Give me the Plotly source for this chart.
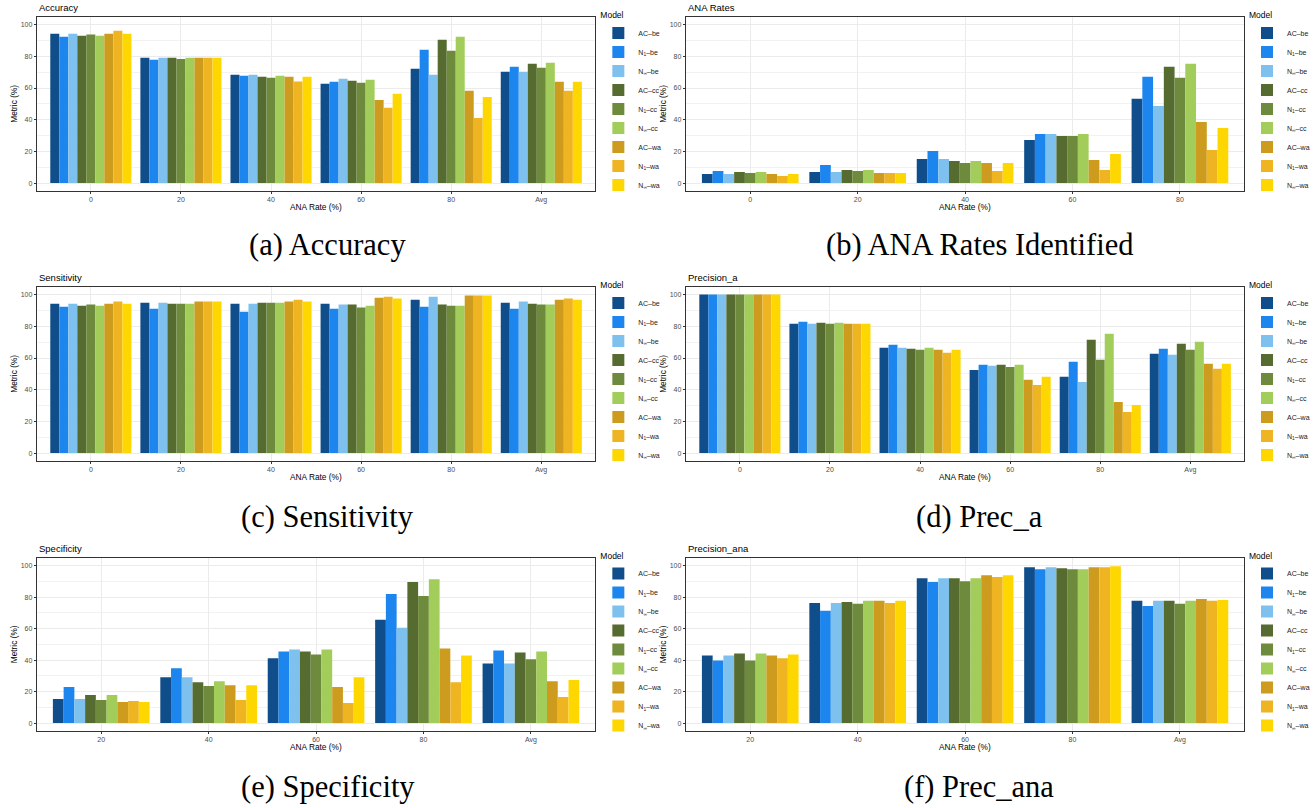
import plotly.graph_objects as go

W, H = 1315, 808

models = ["AC–be", "N<sub>1</sub>–be", "N<sub>∞</sub>–be",
          "AC–cc", "N<sub>1</sub>–cc", "N<sub>∞</sub>–cc",
          "AC–wa", "N<sub>1</sub>–wa", "N<sub>∞</sub>–wa"]
colors = ["#104E8B", "#1C86EE", "#7EC0EE",
          "#556B2F", "#6E8B3D", "#A2CD5A",
          "#CD9B1D", "#EEB422", "#FFD700"]

cats_full = ["0", "20", "40", "60", "80", "Avg"]
cats_rates = ["0", "20", "40", "60", "80"]
cats_spec = ["20", "40", "60", "80", "Avg"]
y_ticks = [0, 20, 40, 60, 80, 100]

# rows = models, columns = categories
accuracy = [
    [94.3, 79.1, 68.4, 62.7, 72.2, 70.3],
    [92.4, 77.8, 67.7, 63.9, 84.2, 73.4],
    [94.3, 79.1, 68.4, 65.8, 68.4, 70.3],
    [93.0, 79.1, 67.1, 64.6, 90.5, 75.3],
    [93.7, 78.3, 66.5, 63.3, 83.5, 72.8],
    [93.0, 79.1, 67.7, 65.2, 92.4, 75.9],
    [94.3, 79.1, 67.1, 52.5, 58.2, 63.9],
    [96.2, 79.1, 64.1, 47.5, 41.1, 58.2],
    [94.3, 79.1, 67.1, 56.3, 54.4, 63.9],
]
ana_rates = [
    [5.7, 7.0, 15.2, 27.2, 53.2],
    [7.6, 11.4, 20.3, 31.0, 67.1],
    [5.7, 7.0, 15.2, 31.0, 48.7],
    [7.0, 8.2, 13.9, 29.7, 73.4],
    [6.3, 7.6, 12.7, 29.7, 66.5],
    [7.0, 8.2, 13.9, 31.0, 75.3],
    [5.7, 6.3, 12.7, 14.6, 38.6],
    [4.4, 6.3, 7.6, 8.2, 20.9],
    [5.7, 6.3, 12.7, 18.4, 34.8],
]
sensitivity = [
    [94.3, 94.9, 94.3, 94.3, 96.8, 94.9],
    [92.4, 91.1, 89.2, 91.1, 92.4, 91.1],
    [94.3, 94.9, 94.3, 93.7, 98.7, 95.6],
    [93.0, 94.3, 94.9, 93.7, 93.7, 94.3],
    [93.7, 94.3, 94.9, 91.8, 93.0, 93.7],
    [93.0, 94.3, 94.9, 93.0, 93.0, 93.7],
    [94.3, 95.6, 95.6, 98.1, 99.4, 96.8],
    [95.6, 95.6, 96.8, 98.7, 99.4, 97.5],
    [94.3, 95.6, 95.6, 97.5, 99.4, 96.8],
]
precision_a = [
    [100, 81.6, 66.5, 52.5, 48.1, 62.7],
    [100, 82.9, 68.4, 55.7, 57.6, 65.8],
    [100, 81.6, 66.5, 55.1, 44.9, 62.0],
    [100, 82.3, 65.8, 55.7, 71.5, 69.0],
    [100, 81.6, 65.2, 54.4, 58.9, 65.2],
    [100, 82.3, 66.5, 55.7, 75.3, 70.3],
    [100, 81.6, 65.2, 46.2, 32.3, 56.3],
    [100, 81.6, 63.3, 43.0, 25.9, 53.2],
    [100, 81.6, 65.2, 48.1, 30.4, 56.3],
]
specificity = [
    [15.3, 29.1, 41.1, 65.6, 37.9],
    [22.9, 34.8, 45.5, 82.0, 46.1],
    [15.3, 29.1, 46.8, 60.6, 37.9],
    [17.8, 26.0, 45.5, 89.5, 44.9],
    [14.7, 23.5, 43.6, 80.7, 40.5],
    [17.8, 26.6, 46.8, 91.4, 45.5],
    [13.4, 24.1, 22.9, 47.4, 26.6],
    [14.0, 14.7, 12.8, 26.0, 16.6],
    [13.4, 24.1, 29.1, 43.0, 27.3],
]
precision_ana = [
    [43.0, 76.3, 92.0, 99.0, 77.6],
    [39.8, 71.3, 89.5, 97.7, 74.4],
    [43.0, 76.3, 92.0, 99.0, 77.6],
    [44.2, 76.9, 92.0, 98.3, 77.6],
    [39.8, 75.7, 90.1, 97.7, 75.7],
    [44.2, 77.6, 92.0, 97.7, 77.6],
    [43.0, 77.6, 93.9, 99.0, 78.8],
    [41.1, 76.3, 92.7, 99.0, 77.6],
    [43.6, 77.6, 93.9, 99.6, 78.2],
]

panels = [
    ("Accuracy", "(a) Accuracy", cats_full, accuracy),
    ("ANA Rates", "(b) ANA Rates Identified", cats_rates, ana_rates),
    ("Sensitivity", "(c) Sensitivity", cats_full, sensitivity),
    ("Precision_a", "(d) Prec_a", cats_full, precision_a),
    ("Specificity", "(e) Specificity", cats_spec, specificity),
    ("Precision_ana", "(f) Prec_ana", cats_spec, precision_ana),
]

# panel boxes in pixels (left, right, top, bottom)
col_x = [(37, 599), (690, 1252)]
row_y = [(16.7, 191), (286.7, 461), (557.7, 731)]
caption_y = [245, 517, 787]

SANS = "Liberation Sans"
SERIF = "Liberation Serif"

fig = go.Figure()
layout = dict(
    width=W, height=H,
    margin=dict(l=0, r=0, t=0, b=0),
    paper_bgcolor="white", plot_bgcolor="white",
    barmode="group", bargap=0.1, bargroupgap=0,
    font=dict(family=SANS, color="black"),
    annotations=[],
)

for i, (title, caption, cats, data) in enumerate(panels):
    r, c = divmod(i, 2)
    x0, x1 = col_x[c]
    t0, t1 = row_y[r]
    n = "" if i == 0 else str(i + 1)
    xa, ya = "x" + n, "y" + n
    leg = "legend" + n
    for m, name in enumerate(models):
        fig.add_trace(go.Bar(
            x=cats, y=data[m], name=name,
            marker=dict(color=colors[m], line=dict(width=0)),
            xaxis=xa, yaxis=ya, legend=leg,
        ))
    axis_common = dict(
        showline=True, mirror=True, linecolor="#333333", linewidth=1,
        ticks="outside", ticklen=2, tickcolor="#333333", tickwidth=0.8,
        tickfont=dict(size=7, color="#4D4D4D", family=SANS),
        showgrid=True, gridcolor="#EBEBEB", gridwidth=1,
        zeroline=False, automargin=False,
    )
    layout["xaxis" + n] = dict(
        axis_common,
        domain=[x0 / W, x1 / W], anchor=ya,
        type="category", range=[-0.6, len(cats) - 0.4],
    )
    layout["yaxis" + n] = dict(
        axis_common,
        domain=[1 - t1 / H, 1 - t0 / H], anchor=xa,
        range=[-5, 105], tickvals=y_ticks,
        minor=dict(dtick=10, tick0=0, showgrid=True, gridcolor="#F2F2F2", gridwidth=0.5),
    )
    layout[leg] = dict(
        x=(x1 + 3) / W, xanchor="left",
        y=1 - (t0 + t1) / 2 / H, yanchor="middle",
        bgcolor="rgba(0,0,0,0)",
        font=dict(size=7, color="#222222", family=SANS),
        title=dict(text="Model", font=dict(size=8.5, color="black", family=SANS)),
        tracegroupgap=0, itemwidth=30,
    )
    # panel title
    layout["annotations"].append(dict(
        text=title, x=x0 / W, y=1 - (t0 - 9) / H, xref="paper", yref="paper",
        xanchor="left", yanchor="middle", showarrow=False,
        font=dict(size=9.5, color="black", family=SANS),
    ))
    # axis titles
    layout["annotations"].append(dict(
        text="Metric (%)", x=(x0 - 23) / W, y=1 - (t0 + t1) / 2 / H,
        xref="paper", yref="paper", textangle=-90,
        xanchor="center", yanchor="middle", showarrow=False,
        font=dict(size=8.3, color="black", family=SANS),
    ))
    layout["annotations"].append(dict(
        text="ANA Rate (%)", x=(x0 + x1) / 2 / W, y=1 - (t1 + 16) / H,
        xref="paper", yref="paper",
        xanchor="center", yanchor="middle", showarrow=False,
        font=dict(size=8.3, color="black", family=SANS),
    ))
    # caption
    layout["annotations"].append(dict(
        text=caption, x=(330 if c == 0 else 985) / W, y=1 - caption_y[r] / H,
        xref="paper", yref="paper",
        xanchor="center", yanchor="middle", showarrow=False,
        font=dict(size=30.5, color="black", family=SERIF),
    ))

fig.update_layout(**layout)
fig.write_html("out.html")
